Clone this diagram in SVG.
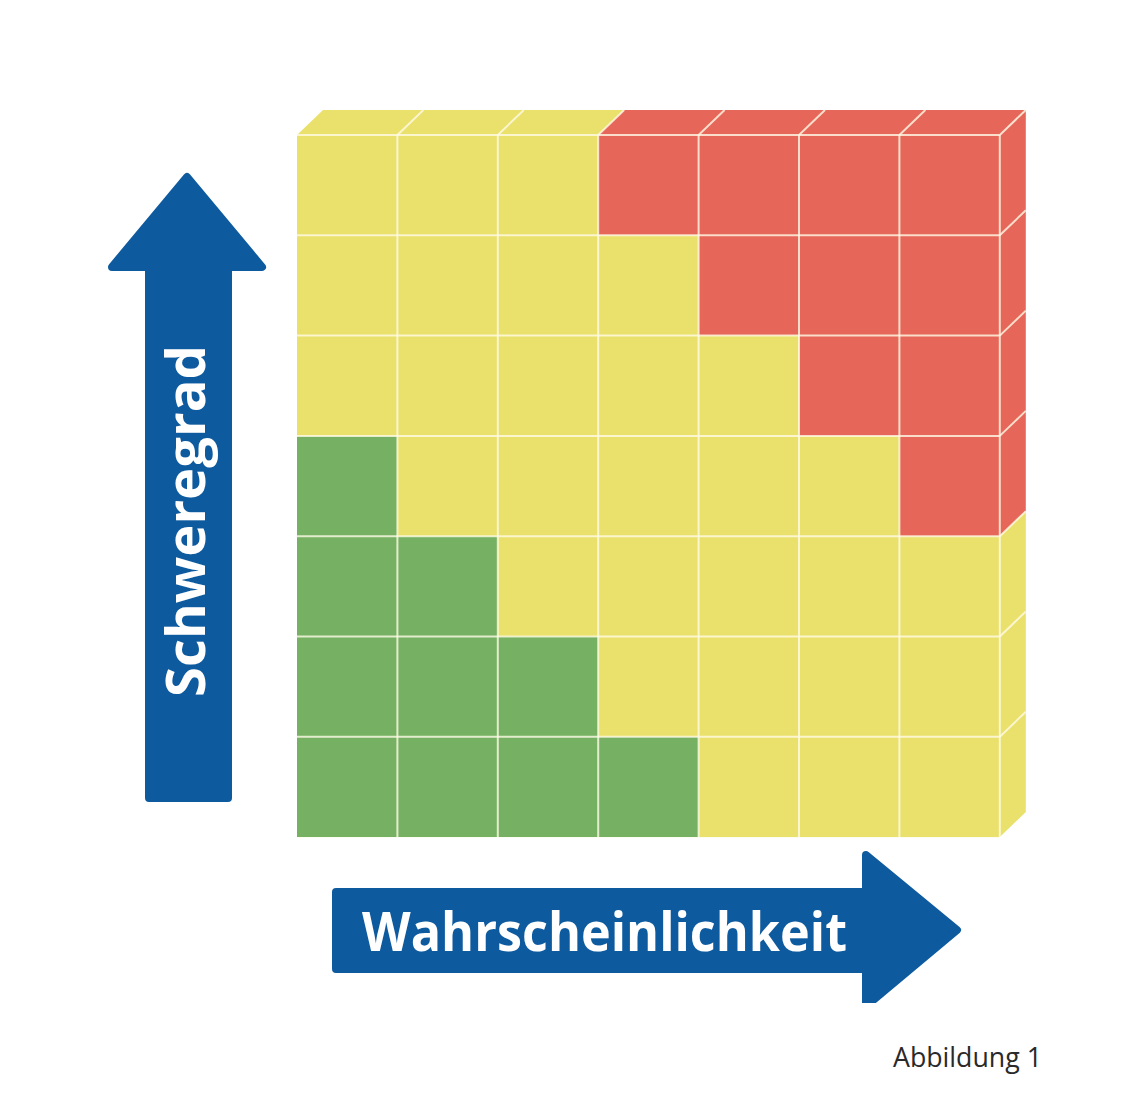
<svg xmlns="http://www.w3.org/2000/svg" width="1131" height="1097" viewBox="0 0 1131 1097">
<defs>
<style>
.yl{fill:#EAE06C}
.rd{fill:#E66659}
.gn{fill:#76B163}
.grid line{stroke:#FFFBE6;stroke-opacity:0.8;stroke-width:2}
.arrow{fill:#0E5A9E;stroke:#0E5A9E;stroke-width:8;stroke-linejoin:round}
.lbl{font-family:"Open Sans","DejaVu Sans",sans-serif;font-weight:700;fill:#FFFFFF;font-size:54px}
.cap{font-family:"Open Sans","Noto Sans",sans-serif;font-weight:400;fill:#2A2A2A;font-size:27px}
</style>
<clipPath id="cut"><rect x="300" y="830" width="700" height="173"/></clipPath>
</defs>
<rect width="1131" height="1097" fill="#FFFFFF"/>
<g id="matrix">
<rect class="yl" x="297" y="135" width="702.8" height="702.1"/>
<polygon class="rd" points="598.2,135 999.8,135 999.8,536.2 899.4,536.2 899.4,435.9 799,435.9 799,335.6 698.6,335.6 698.6,235.3 598.2,235.3"/>
<polygon class="gn" points="297,435.9 397.4,435.9 397.4,536.2 497.8,536.2 497.8,636.5 598.2,636.5 598.2,736.8 698.6,736.8 698.6,837.1 297,837.1"/>
<polygon class="yl" points="297,135 323,110 624.2,110 598.2,135"/>
<polygon class="rd" points="598.2,135 624.2,110 1025.8,110 999.8,135"/>
<polygon class="rd" points="999.8,135 1025.8,110 1025.8,511.2 999.8,536.2"/>
<polygon class="yl" points="999.8,536.2 1025.8,511.2 1025.8,812.1 999.8,837.1"/>
<g class="grid">
<line x1="397.4" y1="135" x2="397.4" y2="837.1"/>
<line x1="497.8" y1="135" x2="497.8" y2="837.1"/>
<line x1="598.2" y1="135" x2="598.2" y2="837.1"/>
<line x1="698.6" y1="135" x2="698.6" y2="837.1"/>
<line x1="799" y1="135" x2="799" y2="837.1"/>
<line x1="899.4" y1="135" x2="899.4" y2="837.1"/>
<line x1="999.8" y1="135" x2="999.8" y2="837.1"/>
<line x1="297" y1="135" x2="999.8" y2="135"/>
<line x1="297" y1="235.3" x2="999.8" y2="235.3"/>
<line x1="297" y1="335.6" x2="999.8" y2="335.6"/>
<line x1="297" y1="435.9" x2="999.8" y2="435.9"/>
<line x1="297" y1="536.2" x2="999.8" y2="536.2"/>
<line x1="297" y1="636.5" x2="999.8" y2="636.5"/>
<line x1="297" y1="736.8" x2="999.8" y2="736.8"/>
<line x1="397.4" y1="135" x2="423.4" y2="110"/>
<line x1="497.8" y1="135" x2="523.8" y2="110"/>
<line x1="598.2" y1="135" x2="624.2" y2="110"/>
<line x1="698.6" y1="135" x2="724.6" y2="110"/>
<line x1="799" y1="135" x2="825" y2="110"/>
<line x1="899.4" y1="135" x2="925.4" y2="110"/>
<line x1="999.8" y1="135" x2="1025.8" y2="110"/>
<line x1="999.8" y1="235.3" x2="1025.8" y2="210.3"/>
<line x1="999.8" y1="335.6" x2="1025.8" y2="310.6"/>
<line x1="999.8" y1="435.9" x2="1025.8" y2="410.9"/>
<line x1="999.8" y1="536.2" x2="1025.8" y2="511.2"/>
<line x1="999.8" y1="636.5" x2="1025.8" y2="611.5"/>
<line x1="999.8" y1="736.8" x2="1025.8" y2="711.8"/>
</g>
</g>
<g id="axis-severity">
<path class="arrow" d="M187,177 L262,267 L228,267 L228,798 L149,798 L149,267 L112,267 Z"/>
<text class="lbl" transform="translate(205,521) rotate(-90)" text-anchor="middle" textLength="352" lengthAdjust="spacingAndGlyphs">Schweregrad</text>
</g>
<g id="axis-probability">
<path class="arrow" clip-path="url(#cut)" d="M336,892 L866,892 L866,855 L957,930 L866,1006 L866,969 L336,969 Z"/>
<text class="lbl" x="604.5" y="951" text-anchor="middle" textLength="485" lengthAdjust="spacingAndGlyphs">Wahrscheinlichkeit</text>
</g>
<g id="caption">
<text class="cap" x="893" y="1067" textLength="149" lengthAdjust="spacingAndGlyphs">Abbildung 1</text>
</g>
<g id="connectors"/>
</svg>
